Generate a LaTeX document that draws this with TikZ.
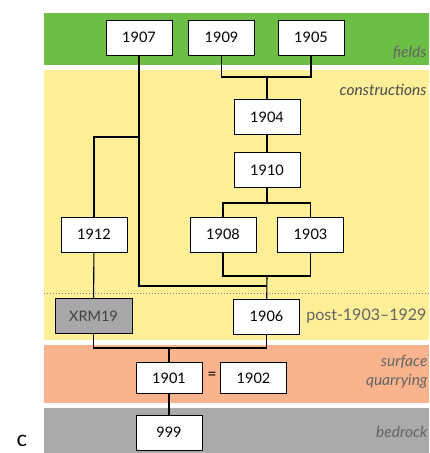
\documentclass[tikz,border=0pt]{standalone}
\usepackage{fontspec}
\setmainfont{Lato}
\usepackage{xcolor}
\usetikzlibrary{positioning, calc}

\definecolor{fieldgreen}{RGB}{108,190,69}
\definecolor{constyellow}{RGB}{253,238,152}
\definecolor{quarryorange}{RGB}{249,180,142}
\definecolor{rockgray}{RGB}{170,170,170}
\definecolor{boxgray}{RGB}{168,168,168}
\definecolor{labelgray}{RGB}{100,100,100}

\begin{document}
\begin{tikzpicture}[x=1pt, y=-1pt, line width=1.1pt,
    yearbox/.style={draw, line width=0.8pt, fill=white, minimum width=66pt,
        minimum height=35pt, inner sep=0pt, font=\fontsize{14.5}{16}\selectfont},
    phase/.style={anchor=east, inner sep=1pt, text=labelgray,
        font=\fontsize{15.5}{17}\selectfont\itshape}]

        \useasboundingbox (0,0) rectangle (429,453);

        % ==========================================
        % Bands
        % ==========================================
        \fill[fieldgreen]   (44,13)  rectangle (429,65);
        \fill[constyellow]  (44,70)  rectangle (429,340);
        \fill[quarryorange] (44,345) rectangle (429,403);
        \fill[rockgray]     (44,408) rectangle (429,453);
        \draw[dotted, gray, line width=1pt] (44,293) -- (429,293);

        % ==========================================
        % Contexts
        % ==========================================
        \node[yearbox] (b1907) at (139,37.5) {1907};
        \node[yearbox] (b1909) at (221.5,37.5) {1909};
        \node[yearbox] (b1905) at (311,37.5) {1905};
        \node[yearbox] (b1904) at (267,117) {1904};
        \node[yearbox] (b1910) at (267,170) {1910};
        \node[yearbox] (b1908) at (223,234.5) {1908};
        \node[yearbox] (b1903) at (310.5,234.5) {1903};
        \node[yearbox] (b1912) at (94,234.5) {1912};
        \node[yearbox, fill=boxgray, text=black!75, minimum width=77pt] (bxrm) at (93.5,316) {XRM19};
        \node[yearbox] (b1906) at (266.5,316.5) {1906};
        \node[yearbox, minimum height=31pt] (b1901) at (169,378) {1901};
        \node[yearbox, minimum height=31pt] (b1902) at (253.5,378) {1902};
        \node[font=\fontsize{16}{18}\selectfont] (eq) at (212,376) {=};
        \node[yearbox] (b999) at (169,432.5) {999};

        % ==========================================
        % Links
        % ==========================================
        \coordinate (jtop) at (267,77);
        \draw (b1909.south) |- (jtop) -| (b1905.south);
        \draw (jtop) -- (b1904);
        \draw (b1904) -- (b1910);

        \coordinate (jmid) at (267,203);
        \draw (b1908.north) |- (jmid) -| (b1903.north);
        \draw (b1910) -- (jmid);

        \coordinate (jlow) at (267,276);
        \draw (b1908.south) |- (jlow) -| (b1903.south);
        \draw (jlow) -- (b1906);

        \coordinate (j06) at (267,286);
        \draw (b1907.south) |- (j06);
        \coordinate (j12) at (139,137);
        \draw (j12) -| (b1912.north);
        \draw (b1912) -- (bxrm);

        \coordinate (jbot) at (169,348);
        \draw (bxrm.south) |- (jbot) -| (b1906.south);
        \draw (jbot) -- (b1901);
        \draw (b1901) -- (b999);

        % ==========================================
        % Phase labels
        % ==========================================
        \node[phase] (lfields) at (428,53) {fields};
        \node[phase, text=black!70] (lcons) at (428,90) {constructions};
        \node[phase, anchor=east, font=\fontsize{16}{18}\selectfont] (lpost) at (428,316) {post-1903–1929};
        \node[phase] (lsurf) at (429,362) {surface};
        \node[phase] (lquar) at (429,381) {quarrying};
        \node[phase] (lbed) at (429,432) {bedrock};
        \node[font=\fontsize{22}{24}\selectfont, anchor=base, inner sep=0pt] (lc) at (22,446) {c};

    \end{tikzpicture}
\end{document}
